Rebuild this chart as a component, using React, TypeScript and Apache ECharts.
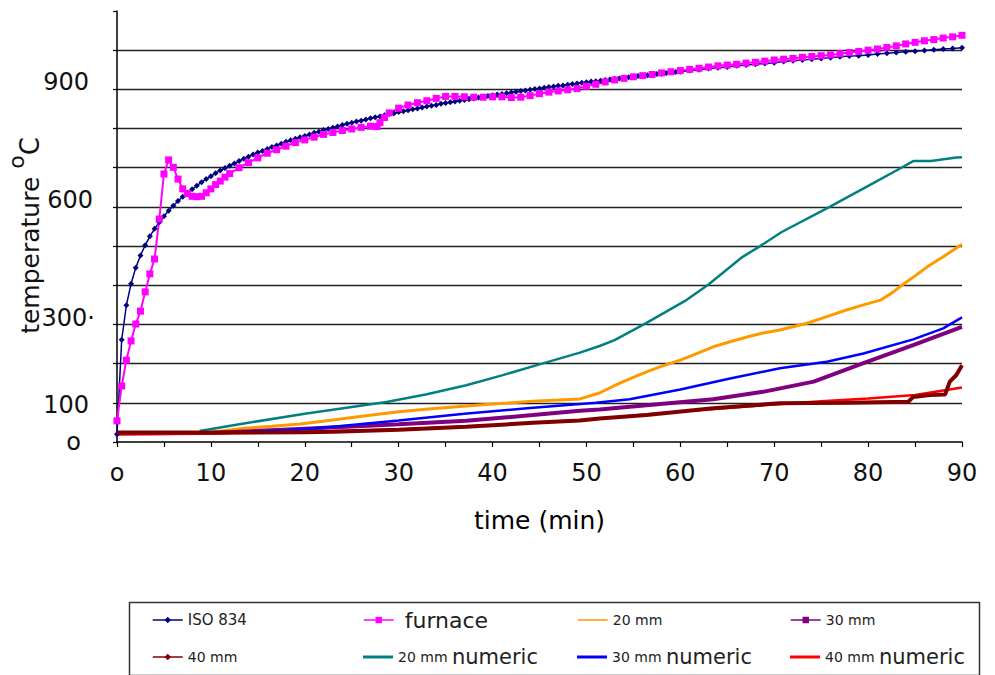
import React, { useEffect, useRef } from 'react';
import * as echarts from 'echarts';

const FONT = 'DejaVu Sans';

// ISO 834 standard curve, read every half minute up to 60 min, then every minute
const isoMinutes = [
  0, 0.5, 1, 1.5, 2, 2.5, 3, 3.5, 4, 4.5, 5, 5.5, 6, 6.5, 7, 7.5, 8, 8.5, 9, 9.5,
  10, 10.5, 11, 11.5, 12, 12.5, 13, 13.5, 14, 14.5, 15, 15.5, 16, 16.5, 17, 17.5, 18, 18.5, 19, 19.5,
  20, 20.5, 21, 21.5, 22, 22.5, 23, 23.5, 24, 24.5, 25, 25.5, 26, 26.5, 27, 27.5, 28, 28.5, 29, 29.5,
  30, 30.5, 31, 31.5, 32, 32.5, 33, 33.5, 34, 34.5, 35, 35.5, 36, 36.5, 37, 37.5, 38, 38.5, 39, 39.5,
  40, 40.5, 41, 41.5, 42, 42.5, 43, 43.5, 44, 44.5, 45, 45.5, 46, 46.5, 47, 47.5, 48, 48.5, 49, 49.5,
  50, 50.5, 51, 51.5, 52, 52.5, 53, 53.5, 54, 54.5, 55, 55.5, 56, 56.5, 57, 57.5, 58, 58.5, 59, 59.5,
  60, 61, 62, 63, 64, 65, 66, 67, 68, 69, 70, 71, 72, 73, 74, 75, 76, 77, 78, 79, 80,
  81, 82, 83, 84, 85, 86, 87, 88, 89, 90,
];
const isoTemps = [
  20, 261, 349, 404, 445, 476, 502, 525, 544, 561, 576, 590, 603, 615, 626, 636, 645, 654, 663, 671,
  678, 686, 693, 699, 705, 711, 717, 723, 728, 734, 739, 743, 748, 753, 757, 761, 766, 770, 774, 778,
  781, 785, 789, 792, 796, 799, 802, 805, 809, 812, 815, 818, 820, 823, 826, 829, 831, 834, 837, 839,
  842, 844, 847, 849, 851, 854, 856, 858, 860, 863, 865, 867, 869, 871, 873, 875, 877, 879, 881, 883,
  885, 887, 888, 890, 892, 894, 896, 897, 899, 901, 902, 904, 906, 907, 909, 910, 912, 914, 915, 917,
  918, 920, 921, 922, 924, 925, 927, 928, 930, 931, 932, 934, 935, 936, 938, 939, 940, 942, 943, 944,
  945, 948, 950, 953, 955, 957, 960, 962, 964, 966, 968, 971, 973, 975, 977, 979, 981, 983, 985, 986, 988,
  990, 992, 994, 996, 997, 999, 1001, 1003, 1004, 1006,
];

const furnaceMinutes = [
  0, 0.5, 1, 1.5, 2, 2.5, 3, 3.5, 4, 4.5, 5, 5.5, 6, 6.5, 7, 7.5, 8, 8.5, 9, 9.5,
  10, 10.5, 11, 11.5, 12, 13, 14, 15, 16, 17, 18, 19, 20, 21, 22, 23, 24, 25, 26, 27, 27.7,
  28, 28.5, 29, 30, 31, 32, 33, 34, 35, 36, 37, 38, 39, 40, 41, 42, 43, 44, 45, 46, 47, 48, 49,
  50, 51, 52, 53, 54, 55, 56, 57, 58, 59, 60, 61, 62, 63, 64, 65, 66, 67, 68, 69, 70,
  71, 72, 73, 74, 75, 76, 77, 78, 79, 80, 81, 82, 83, 84, 85, 86, 87, 88, 89, 90,
];
const furnaceTemps = [
  54, 143, 209, 258, 301, 334, 383, 429, 467, 569, 684, 720, 701, 671, 646, 634, 627, 626, 627, 636,
  646, 657, 666, 676, 685, 700, 713, 725, 737, 746, 755, 764, 771, 778, 785, 790, 795, 799, 803, 806, 805,
  815, 828, 840, 852, 860, 866, 871, 877, 882, 882, 881, 880, 880, 881, 881, 879, 880, 884, 889, 893, 896, 899, 902,
  908, 913, 919, 924, 928, 932, 935, 938, 942, 945, 948, 951, 954, 957, 960, 962, 964, 967, 969, 972, 975,
  977, 979, 982, 984, 986, 988, 991, 994, 997, 1000, 1003, 1007, 1011, 1016, 1020, 1024, 1027, 1031, 1034, 1038,
];

// measured steel temperatures [minute, °C]
const mm20 = [
  [0, 24], [5, 24], [10, 25], [13.5, 35], [16.5, 40], [19.5, 46], [23, 56], [26.5, 67], [30, 77],
  [33.5, 85], [37.2, 92], [40.8, 98], [44.3, 104], [47, 107], [49.3, 110], [51.4, 125], [52.9, 143],
  [54.6, 161], [56.4, 179], [58.2, 195], [60, 209], [61.8, 226], [63.5, 243], [65.3, 256], [67.1, 268],
  [68.8, 278], [70.6, 286], [72, 294], [73.5, 303], [75.6, 320], [77.7, 337], [79.5, 350], [81.3, 362],
  [82.5, 380], [83.6, 400], [85, 424], [86.3, 447], [88, 473], [90, 505],
];
const mm30 = [
  [0, 22], [10, 23], [20, 34], [30, 45], [37.2, 54], [44.3, 69], [49.3, 80], [51.4, 83], [56.4, 94],
  [63.5, 109], [68.8, 128], [74.2, 154], [79.5, 201], [84.8, 247], [90, 294],
];
const mm40 = [
  [0, 24], [10, 24], [20, 25], [23, 26], [30, 31], [37.2, 39], [44.3, 49], [49.3, 55], [51.4, 60],
  [56.4, 69], [63.5, 86], [70.6, 99], [77.7, 100], [84.3, 103], [84.8, 115], [86.6, 120], [88.2, 121],
  [88.7, 154], [89.4, 171], [90, 196],
];
// numerical predictions [minute, °C]
const mm20num = [
  [8.8, 28], [12.4, 43], [20, 72], [28.7, 102], [33, 122], [37.2, 145], [41, 170], [45, 198], [49.3, 228],
  [51.4, 245], [53, 260], [56.4, 304], [60.5, 360], [63, 402], [66.6, 472], [68.5, 500], [70.8, 536],
  [75.9, 600], [80.5, 660], [83.4, 698], [84.8, 717], [86.7, 717], [89.4, 726], [90, 727],
];
const mm30num = [
  [0, 22], [10, 23], [18, 30], [23, 39], [30, 55], [37, 72], [44, 87], [51, 100], [54.6, 109], [60, 134],
  [65.3, 162], [70.6, 188], [75.6, 205], [79.5, 226], [84.8, 262], [88, 290], [90, 318],
];
const mm40num = [
  [0, 20], [10, 22], [20, 26], [30, 32], [40, 43], [50, 57], [60, 78], [70, 96], [75, 104], [80, 111],
  [85, 120], [90, 139],
];

const xTickLabels = { 0: 'o', 10: '10', 20: '20', 30: '30', 40: '40', 50: '50', 60: '60', 70: '70', 80: '80', 90: '90' };
const yTickLabels = { 0: '{e|o}', 100: '{d|100}', 300: '{c|300\u00b7}', 600: '{b|600}', 900: '{a|900}' };

const zip = (ts: number[], vs: number[]) => ts.map((t, i) => [t, vs[i]]);

const BAR = 'path://M0,0H30V3H0Z';

export default function App() {
  const ref = useRef<HTMLDivElement>(null);
  useEffect(() => {
    document.body.style.margin = '0';
    const chart = echarts.init(ref.current!, null, { renderer: 'svg' });
    const lbl = (size: number, extra: any = {}) => ({ fontSize: size, fontFamily: FONT, color: '#111', ...extra });
    const legendText = {
      fontFamily: FONT,
      color: '#222',
      rich: {
        i: { fontSize: 15, height: 26, lineHeight: 26, fontFamily: FONT, color: '#222' },
        s: { fontSize: 14, height: 26, lineHeight: 26, fontFamily: FONT, color: '#222' },
        f: { fontSize: 22, height: 26, lineHeight: 26, fontFamily: FONT, color: '#222', padding: [0, 0, 0, 6] },
        b: { fontSize: 21, height: 26, lineHeight: 26, fontFamily: FONT, color: '#222' },
      },
    };
    const legendFmt = (name: string) => {
      if (name === 'furnace') return '{f|furnace}';
      if (name === 'ISO 834') return '{i|ISO 834}';
      if (name.endsWith('numeric')) return '{s|' + name.replace(' numeric', ' ') + '}{b|numeric}';
      return '{s|' + name + '}';
    };
    const legendItem = (left: number, center: number, item: any) => ({
      left, top: center - 13, orient: 'horizontal', padding: 0, itemWidth: 30, itemHeight: 8,
      lineStyle: { width: 1.5 }, textStyle: legendText, formatter: legendFmt, selectedMode: false,
      data: [item],
    });
    const base = (name: string, data: any[], color: string, extra: any) => ({
      type: 'line', name, data, color, animation: false, silent: true,
      itemStyle: { color }, emphasis: { disabled: true }, ...extra,
    });
    chart.setOption({
      animation: false,
      grid: { left: 117, right: 33, top: 11, bottom: 233, outerBoundsMode: 'none', containLabel: false },
      xAxis: {
        type: 'value', min: 0, max: 90, interval: 5,
        axisLine: { show: true, lineStyle: { color: '#000', width: 1.5 } },
        axisTick: { show: true, length: 5, lineStyle: { color: '#000', width: 1.2 } },
        splitLine: { show: false },
        axisLabel: {
          margin: 19, lineHeight: 24, ...lbl(24),
          formatter: (v: number) => (xTickLabels as any)[v] ?? '',
        },
        name: 'time (min)', nameLocation: 'middle', nameGap: 66, nameMoveOverlap: false,
        nameTextStyle: lbl(25, { color: '#000' }),
      },
      yAxis: {
        type: 'value', min: 0, max: 1100, interval: 100,
        axisLine: { show: true, lineStyle: { color: '#000', width: 1.5 } },
        axisTick: { show: true, length: 4, lineStyle: { color: '#000', width: 1.2 } },
        splitLine: { show: true, showMinLine: false, showMaxLine: false, lineStyle: { color: '#222', width: 1.3 } },
        axisLabel: {
          margin: 22, ...lbl(24),
          formatter: (v: number) => (yTickLabels as any)[v] ?? '',
          rich: {
            a: lbl(24, { padding: [0, 6, 14, 0] }),
            b: lbl(24, { padding: [0, 2, 14, 0] }),
            c: lbl(24, { padding: [0, 0, 12, 0] }),
            d: lbl(24, { padding: [4, 6, 0, 0] }),
            e: lbl(24, { padding: [0, 14, 0, 0] }),
          },
        },
        name: '{t|temperature }{sup|o}{c|C}', nameLocation: 'middle', nameRotate: 90, nameGap: 62,
        nameMoveOverlap: false,
        nameTextStyle: {
          ...lbl(25), padding: [0, 18, 0, 0],
          rich: {
            t: lbl(25),
            sup: lbl(22, { padding: [0, 0, 28, 0] }),
            c: lbl(26),
          },
        },
      },
      legend: [
        legendItem(152, 620, { name: 'ISO 834' }),
        legendItem(363, 620, { name: 'furnace' }),
        legendItem(577, 620, { name: '20 mm' }),
        legendItem(790, 620, { name: '30 mm' }),
        legendItem(152, 657, { name: '40 mm' }),
        legendItem(363, 657, { name: '20 mm numeric', icon: BAR }),
        legendItem(577, 657, { name: '30 mm numeric', icon: BAR }),
        legendItem(790, 657, { name: '40 mm numeric', icon: BAR }),
      ],
      graphic: [
        {
          type: 'rect', left: 127, top: 600, silent: true,
          shape: { width: 850, height: 73 },
          style: { fill: 'none', stroke: '#333', lineWidth: 1.5 },
        },
      ],
      series: [
        base('ISO 834', zip(isoMinutes, isoTemps), '#000080', {
          symbol: 'diamond', symbolSize: 6, lineStyle: { width: 1.5 },
        }),
        base('furnace', zip(furnaceMinutes, furnaceTemps), '#ff00ff', {
          symbol: 'rect', symbolSize: 7, lineStyle: { width: 2 },
        }),
        base('20 mm', mm20, '#ff9900', { symbol: 'path://M0,0L10,10M10,0L0,10', symbolSize: 6, showSymbol: false, lineStyle: { width: 3 } }),
        base('30 mm', mm30, '#800080', { symbol: 'rect', symbolSize: 5, showSymbol: false, lineStyle: { width: 4 } }),
        base('40 mm', mm40, '#800000', { symbol: 'diamond', symbolSize: 7, showSymbol: false, z: 4, lineStyle: { width: 4 } }),
        base('20 mm numeric', mm20num, '#008080', { symbol: 'none', lineStyle: { width: 2.5 } }),
        base('30 mm numeric', mm30num, '#0000ff', { symbol: 'none', lineStyle: { width: 2.5 } }),
        base('40 mm numeric', mm40num, '#ff0000', { symbol: 'none', lineStyle: { width: 2.5 } }),
      ],
    });
    return () => chart.dispose();
  }, []);
  return <div ref={ref} style={{ width: 995, height: 675 }} />;
}
